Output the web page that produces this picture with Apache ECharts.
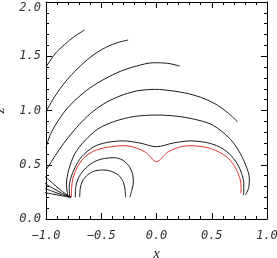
<!DOCTYPE html>
<html><head><meta charset="utf-8">
<script src="https://cdn.jsdelivr.net/npm/echarts@6/dist/echarts.min.js"></script>
<style>html,body{margin:0;padding:0;background:#fff}#c{width:277px;height:258px}</style>
</head><body><div id="c"></div>
<script>
// Tick labels
const xTickLabels = ['\u22121.0', '\u22120.5', '0.0', '0.5', '1.0'];
const yTickLabels = ['0.0', '0.5', '1.0', '1.5', '2.0'];
const xName = 'x';
const yName = 'z';

// Field lines [x, z]
const lineA = [[-1.0,1.40],[-0.92,1.52],[-0.83,1.61],[-0.74,1.685],[-0.65,1.742]];
const lineB = [[-1.0,0.99],[-0.92,1.13],[-0.82,1.27],[-0.71,1.39],[-0.60,1.49],[-0.49,1.565],[-0.37,1.62],[-0.256,1.65]];
const lineC = [[-1.0,0.66],[-0.96,0.78],[-0.90,0.89],[-0.82,1.005],[-0.72,1.11],[-0.60,1.21],[-0.47,1.29],[-0.33,1.36],[-0.18,1.41],[-0.03,1.44],[0.10,1.435],[0.21,1.41]];
const lineD = [[-1.0,0.45],[-0.95,0.53],[-0.88,0.64],[-0.80,0.75],[-0.70,0.87],[-0.60,0.97],[-0.48,1.06],[-0.34,1.13],[-0.18,1.18],[-0.01,1.195],[0.15,1.18],[0.30,1.152],[0.43,1.11],[0.55,1.05],[0.65,0.975],[0.735,0.895]];
const lineE = [[-0.80,0.20],[-0.815,0.32],[-0.795,0.45],[-0.74,0.60],[-0.65,0.72],[-0.53,0.83],[-0.38,0.90],[-0.20,0.945],[0.0,0.958],[0.18,0.948],[0.34,0.92],[0.49,0.875],[0.60,0.80],[0.69,0.71],[0.76,0.60],[0.81,0.49],[0.84,0.38],[0.835,0.29],[0.805,0.22]];
const lineF = [[-0.785,0.20],[-0.79,0.29],[-0.775,0.38],[-0.74,0.47],[-0.68,0.57],[-0.57,0.665],[-0.45,0.705],[-0.30,0.72],[-0.15,0.70],[0.0,0.666],[0.15,0.70],[0.305,0.72],[0.45,0.705],[0.57,0.665],[0.66,0.60],[0.73,0.51],[0.77,0.42],[0.79,0.33],[0.79,0.25],[0.785,0.22]];
const lineRed = [[-0.77,0.20],[-0.768,0.29],[-0.755,0.38],[-0.72,0.47],[-0.66,0.56],[-0.57,0.625],[-0.45,0.66],[-0.30,0.676],[-0.20,0.66],[-0.10,0.615],[0.0,0.528],[0.10,0.615],[0.20,0.66],[0.30,0.676],[0.45,0.66],[0.56,0.62],[0.65,0.56],[0.71,0.48],[0.75,0.39],[0.765,0.31],[0.765,0.25],[0.76,0.235]];
const lineE2 = [[-0.735,0.20],[-0.73,0.30],[-0.70,0.39],[-0.64,0.47],[-0.56,0.53],[-0.47,0.558],[-0.38,0.565],[-0.31,0.545],[-0.25,0.49],[-0.215,0.41],[-0.21,0.33],[-0.225,0.26],[-0.24,0.20]];
const lineF2 = [[-0.695,0.20],[-0.69,0.28],[-0.67,0.35],[-0.62,0.41],[-0.55,0.445],[-0.48,0.452],[-0.41,0.44],[-0.34,0.40],[-0.30,0.34],[-0.285,0.27],[-0.28,0.20]];
const legA = [[-0.775,0.20],[-0.86,0.215],[-0.94,0.23],[-1.02,0.245]];
const legB = [[-0.775,0.20],[-0.86,0.225],[-0.94,0.255],[-1.02,0.285]];
const legC = [[-0.775,0.20],[-0.86,0.24],[-0.94,0.285],[-1.02,0.335]];
const legD = [[-0.775,0.20],[-0.86,0.26],[-0.94,0.33],[-1.02,0.40]];

const blackLines = [lineA, lineB, lineC, lineD, lineE, lineF, lineE2, lineF2, legA, legB, legC, legD];
const redLines = [lineRed];

const labelFont = {fontFamily: 'DejaVu Sans Mono', fontStyle: 'italic', fontSize: 12, color: '#333'};
const tickStyle = {color: '#000', width: 1};

function mkLine(d, color) {
  return {type: 'line', data: d, showSymbol: false, smooth: 0.3, clip: true,
    lineStyle: {color: color, width: 1}, silent: true, animation: false};
}

const chart = echarts.init(document.getElementById('c'), null, {renderer: 'canvas'});
const xBase = {type: 'value', min: -1, max: 1, interval: 0.5, splitLine: {show: false},
  axisLine: {show: true, onZero: false, lineStyle: {color: '#000', width: 1}},
  axisTick: {show: true, inside: true, length: 6, lineStyle: tickStyle},
  minorTick: {show: true, splitNumber: 5, length: 3, lineStyle: tickStyle}};
const yBase = {type: 'value', min: 0, max: 2, interval: 0.5, splitLine: {show: false},
  axisLine: {show: true, onZero: false, lineStyle: {color: '#000', width: 1}},
  axisTick: {show: true, inside: true, length: 6, lineStyle: tickStyle},
  minorTick: {show: true, splitNumber: 5, length: 3, lineStyle: tickStyle}};

chart.setOption({
  animation: false,
  grid: {left: 46, right: 10, top: 2, bottom: 39, containLabel: false, outerBoundsMode: 'none'},
  xAxis: [
    Object.assign({}, xBase, {position: 'bottom', name: xName, nameLocation: 'middle', nameGap: 27,
      nameTextStyle: {fontFamily: 'Liberation Serif', fontStyle: 'italic', fontSize: 15, color: '#222'},
      axisLabel: Object.assign({margin: 11, formatter: v => xTickLabels[Math.round((v + 1) / 0.5)]}, labelFont)}),
    Object.assign({}, xBase, {position: 'top', axisLabel: {show: false}})
  ],
  yAxis: [
    Object.assign({}, yBase, {position: 'left', name: yName, nameLocation: 'middle', nameGap: 38, nameRotate: 90,
      nameMoveOverlap: false,
      nameTextStyle: {fontFamily: 'Liberation Serif', fontStyle: 'italic', fontSize: 15, color: '#222'},
      axisLabel: Object.assign({margin: 5, verticalAlignMaxLabel: 'top', formatter: v => yTickLabels[Math.round(v / 0.5)]}, labelFont)}),
    Object.assign({}, yBase, {position: 'right', axisLabel: {show: false}})
  ],
  series: blackLines.map(d => mkLine(d, '#1a1a1a')).concat(redLines.map(d => mkLine(d, '#e03030')))
});
</script></body></html>
